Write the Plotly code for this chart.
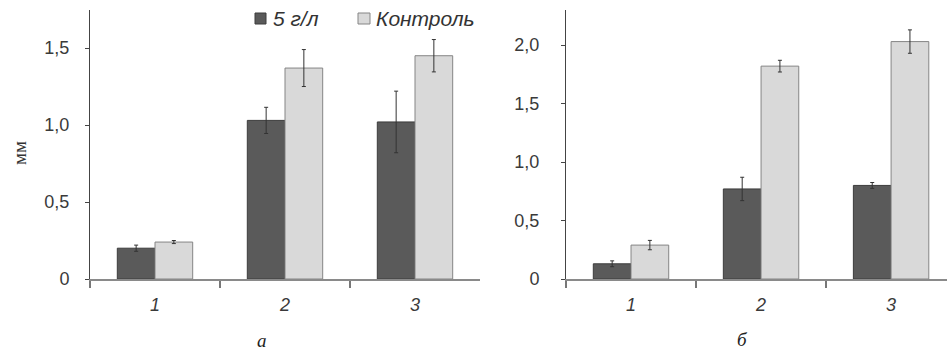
import plotly.graph_objects as go

categories = ["1", "2", "3"]

# Panel a
a_dose = [0.20, 1.03, 1.02]
a_dose_err = [0.02, 0.085, 0.20]
a_ctrl = [0.24, 1.37, 1.45]
a_ctrl_err = [0.01, 0.12, 0.105]

# Panel б
b_dose = [0.13, 0.77, 0.80]
b_dose_err = [0.025, 0.10, 0.025]
b_ctrl = [0.29, 1.82, 2.03]
b_ctrl_err = [0.04, 0.05, 0.10]

a_ytickvals = [0, 0.5, 1.0, 1.5]
a_yticktext = ["0", "0,5", "1,0", "1,5"]
b_ytickvals = [0, 0.5, 1.0, 1.5, 2.0]
b_yticktext = ["0", "0,5", "1,0", "1,5", "2,0"]

series_names = ["5 г/л", "Контроль"]
panel_labels = ["а", "б"]

DARK = "#5a5a5a"
LIGHT = "#d9d9d9"
DARK_LINE = "#3c3c3c"
LIGHT_LINE = "#858585"
W, H = 947, 353

fig = go.Figure()

def add_bars(xa, ya, dose, dose_err, ctrl, ctrl_err):
    fig.add_trace(go.Bar(
        x=categories, y=dose, name=series_names[0], xaxis=xa, yaxis=ya,
        marker=dict(color=DARK, line=dict(color=DARK_LINE, width=1)),
        error_y=dict(type="data", array=dose_err, color="#333333", thickness=1, width=2),
        showlegend=False))
    fig.add_trace(go.Bar(
        x=categories, y=ctrl, name=series_names[1], xaxis=xa, yaxis=ya,
        marker=dict(color=LIGHT, line=dict(color=LIGHT_LINE, width=1)),
        error_y=dict(type="data", array=ctrl_err, color="#333333", thickness=1, width=2),
        showlegend=False))

add_bars("x", "y", a_dose, a_dose_err, a_ctrl, a_ctrl_err)
add_bars("x2", "y2", b_dose, b_dose_err, b_ctrl, b_ctrl_err)

tickfont_y = dict(family="Liberation Sans, Arial", size=18, color="#3a3a3a")
tickfont_x = dict(family="Liberation Sans, Arial", size=18, color="#3a3a3a", style="italic")

def px_x(p):
    return p / W

def px_y(p):
    return (H - p) / H

xcommon = dict(type="category", tickson="boundaries", ticks="outside", ticklen=7,
               tickcolor="#777777", tickwidth=1.5, showline=True, linecolor="#8a8a8a",
               linewidth=2, showgrid=False, tickfont=tickfont_x, ticklabelstandoff=8,
               automargin=False)
ycommon = dict(ticks="outside", ticklen=4, tickcolor="#444444", showline=True,
               linecolor="#444444", linewidth=1, showgrid=False, zeroline=False,
               tickfont=tickfont_y, automargin=False)

# Manual legend (symbols + labels) in paper coordinates
legend_font = dict(family="Liberation Sans, Arial", size=21, color="#333", style="italic")
shapes = [
    dict(type="rect", xref="paper", yref="paper", x0=px_x(255), x1=px_x(266),
         y0=px_y(24), y1=px_y(13), fillcolor=DARK, line=dict(color=DARK_LINE, width=1)),
    dict(type="rect", xref="paper", yref="paper", x0=px_x(358), x1=px_x(370),
         y0=px_y(24), y1=px_y(13), fillcolor=LIGHT, line=dict(color=LIGHT_LINE, width=1)),
]

serif_font = dict(family="Liberation Serif, Times New Roman", size=19, color="#222", style="italic")
annotations = [
    dict(text=series_names[0], x=px_x(271), y=px_y(19), xref="paper", yref="paper",
         xanchor="left", yanchor="middle", showarrow=False, font=legend_font),
    dict(text=series_names[1], x=px_x(374), y=px_y(19), xref="paper", yref="paper",
         xanchor="left", yanchor="middle", showarrow=False, font=legend_font),
    dict(text=panel_labels[0], x=px_x(262), y=px_y(340), xref="paper", yref="paper",
         xanchor="center", yanchor="middle", showarrow=False, font=serif_font),
    dict(text=panel_labels[1], x=px_x(742), y=px_y(339), xref="paper", yref="paper",
         xanchor="center", yanchor="middle", showarrow=False, font=serif_font),
    dict(text="мм", x=px_x(19), y=px_y(153), xref="paper", yref="paper", textangle=-90,
         xanchor="center", yanchor="middle", showarrow=False,
         font=dict(family="Liberation Serif, Times New Roman", size=19, color="#333")),
]

fig.update_layout(
    width=W, height=H,
    margin=dict(l=0, r=0, t=0, b=0, autoexpand=False),
    paper_bgcolor="white", plot_bgcolor="white",
    barmode="group", bargap=0.42, bargroupgap=0,
    showlegend=False,
    xaxis=dict(domain=[px_x(90), px_x(480)], range=[-0.5, 2.5], anchor="y", **xcommon),
    yaxis=dict(domain=[px_y(279), px_y(10)], range=[0, 1.747], anchor="x",
               tickvals=a_ytickvals, ticktext=a_yticktext, ticklabelstandoff=12,
               **ycommon),
    xaxis2=dict(domain=[px_x(566), 1], range=[-0.5, 2.43], anchor="y2", **xcommon),
    yaxis2=dict(domain=[px_y(279), px_y(10)], range=[0, 2.3], anchor="x2",
                tickvals=b_ytickvals, ticktext=b_yticktext, ticklabelstandoff=18,
                **ycommon),
    shapes=shapes,
    annotations=annotations,
)

fig.write_html(
    "out.html",
    config={"displayModeBar": False},
    post_script="document.body.style.margin='0';document.body.style.overflow='hidden';",
)
